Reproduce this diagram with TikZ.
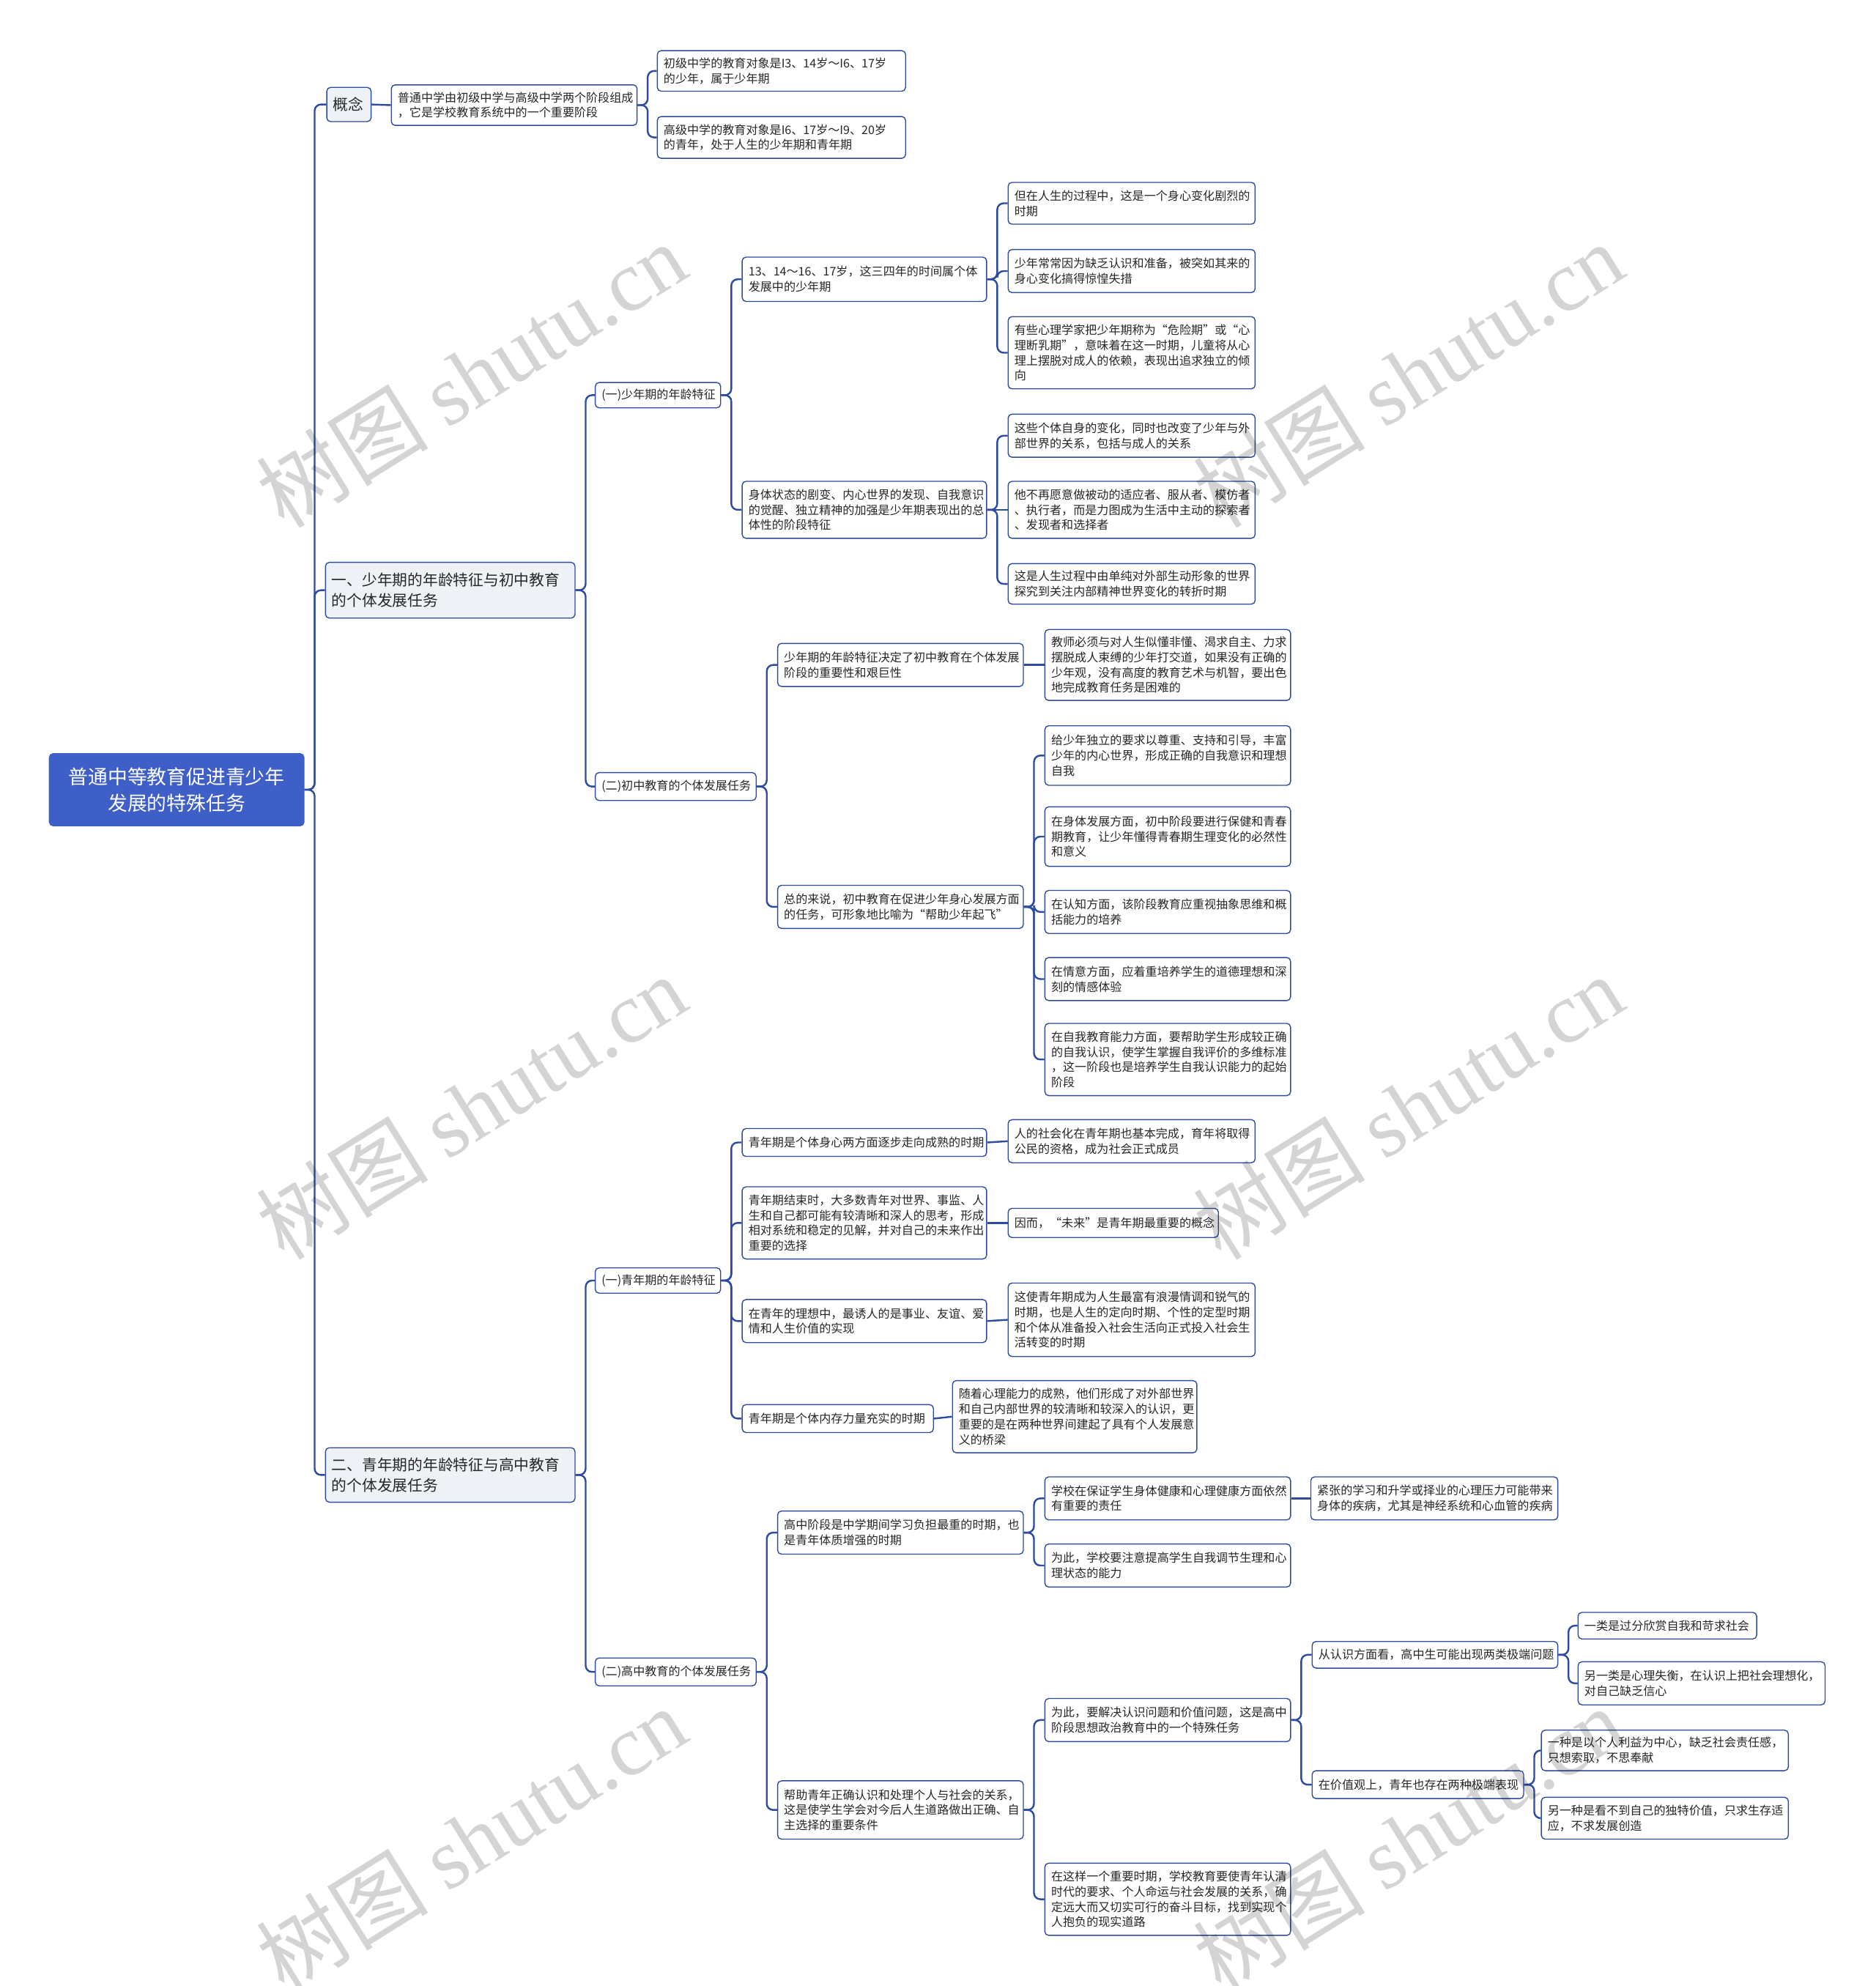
\documentclass[tikz,border=0pt]{standalone}
\usepackage{fontspec}
\setmainfont{Noto Sans CJK SC}
\newfontfamily\wmserif{Liberation Serif}
\newfontfamily\wmcjk{Noto Sans CJK SC}
\definecolor{lineblue}{HTML}{2E4C9E}
\definecolor{rootblue}{HTML}{3F5FC8}
\definecolor{lvfill}{HTML}{EEF1F6}
\tikzset{
 box/.style={draw=lineblue, line width=0.8pt, rounded corners=3pt, fill=white, inner xsep=5pt, inner ysep=0pt, align=left, font=\fontsize{9.3}{12}\selectfont, text=black!85},
 lvone/.style={fill=lvfill, font=\fontsize{12}{16}\selectfont},
 rootbox/.style={fill=rootblue, draw=rootblue, text=white, align=center, font=\fontsize{15.5}{21}\selectfont},
 conn/.style={draw=lineblue, line width=1.4pt, rounded corners=5pt},
 wmark/.style={rotate=32, text=black, opacity=0.17, font=\fontsize{68}{76}\selectfont},
}
\newcommand\bx[7][]{%
 \pgfmathsetmacro\tw{#5-10}%
 \node[box,#1,minimum width=#5pt,minimum height=#6pt,text width=\tw pt] (#2) at ({#3+#5/2},{#4+#6/2}) {#7};}
\newcommand\cb[2]{\draw[conn] (#1.east) -- ++(8,0) |- (#2.west);}
\newcommand\cs[2]{\draw[conn] (#1.east) -- (#2.west);}
\begin{document}
\begin{tikzpicture}[x=1pt,y=-1pt]
\useasboundingbox[fill=white] (0,0) rectangle (1481,1568);
% root and level 1
\bx[rootbox]{root}{39}{595}{201}{57}{普通中等教育促进青少年\\发展的特殊任务}
\bx[lvone]{gn}{258}{69}{35}{27}{概念}
\bx[lvone]{L1}{257}{444}{197}{44}{一、少年期的年龄特征与初中教育\\的个体发展任务}
\bx[lvone]{L2}{257}{1143}{197}{43}{二、青年期的年龄特征与高中教育\\的个体发展任务}
% concept
\bx{c1}{309}{67}{194}{32}{普通中学由初级中学与高级中学两个阶段组成\\，它是学校教育系统中的一个重要阶段}
\bx{c1a}{519}{40}{196}{32}{初级中学的教育对象是I3、14岁～I6、17岁\\的少年，属于少年期}
\bx{c1b}{519}{92}{196}{33}{高级中学的教育对象是I6、17岁～I9、20岁\\的青年，处于人生的少年期和青年期}
% branch 1
\bx{A1}{470}{302}{99}{20}{(一)少年期的年龄特征}
\bx{A2}{470}{610}{127}{22}{(二)初中教育的个体发展任务}
\bx{A1a}{586}{203}{193}{35}{13、14～16、17岁，这三四年的时间属个体\\发展中的少年期}
\bx{A1b}{586}{380}{193}{45}{身体状态的剧变、内心世界的发现、自我意识\\的觉醒、独立精神的加强是少年期表现出的总\\体性的阶段特征}
\bx{A1a1}{796}{144}{195}{33}{但在人生的过程中，这是一个身心变化剧烈的\\时期}
\bx{A1a2}{796}{197}{195}{34}{少年常常因为缺乏认识和准备，被突如其来的\\身心变化搞得惊惶失措}
\bx{A1a3}{796}{250}{195}{57}{有些心理学家把少年期称为“危险期”或“心\\理断乳期”，意味着在这一时期，儿童将从心\\理上摆脱对成人的依赖，表现出追求独立的倾\\向}
\bx{A1b1}{796}{327}{195}{34}{这些个体自身的变化，同时也改变了少年与外\\部世界的关系，包括与成人的关系}
\bx{A1b2}{796}{380}{195}{45}{他不再愿意做被动的适应者、服从者、模仿者\\、执行者，而是力图成为生活中主动的探索者\\、发现者和选择者}
\bx{A1b3}{796}{445}{195}{32}{这是人生过程中由单纯对外部生动形象的世界\\探究到关注内部精神世界变化的转折时期}
\bx{A2a}{614}{508}{194}{34}{少年期的年龄特征决定了初中教育在个体发展\\阶段的重要性和艰巨性}
\bx{A2b}{614}{699}{194}{34}{总的来说，初中教育在促进少年身心发展方面\\的任务，可形象地比喻为“帮助少年起飞”}
\bx{A2a1}{825}{497}{194}{56}{教师必须与对人生似懂非懂、渴求自主、力求\\摆脱成人束缚的少年打交道，如果没有正确的\\少年观，没有高度的教育艺术与机智，要出色\\地完成教育任务是困难的}
\bx{A2b1}{825}{573}{194}{47}{给少年独立的要求以尊重、支持和引导，丰富\\少年的内心世界，形成正确的自我意识和理想\\自我}
\bx{A2b2}{825}{637}{194}{47}{在身体发展方面，初中阶段要进行保健和青春\\期教育，让少年懂得青春期生理变化的必然性\\和意义}
\bx{A2b3}{825}{703}{194}{34}{在认知方面，该阶段教育应重视抽象思维和概\\括能力的培养}
\bx{A2b4}{825}{756}{194}{34}{在情意方面，应着重培养学生的道德理想和深\\刻的情感体验}
\bx{A2b5}{825}{808}{194}{57}{在自我教育能力方面，要帮助学生形成较正确\\的自我认识，使学生掌握自我评价的多维标准\\，这一阶段也是培养学生自我认识能力的起始\\阶段}
% branch 2
\bx{B1}{470}{1001}{99}{20}{(一)青年期的年龄特征}
\bx{B2}{470}{1309}{127}{22}{(二)高中教育的个体发展任务}
\bx{B1a}{586}{891}{193}{22}{青年期是个体身心两方面逐步走向成熟的时期}
\bx{B1b}{586}{937}{193}{57}{青年期结束时，大多数青年对世界、事监、人\\生和自己都可能有较清晰和深人的思考，形成\\相对系统和稳定的见解，并对自己的未来作出\\重要的选择}
\bx{B1c}{586}{1026}{193}{34}{在青年的理想中，最诱人的是事业、友谊、爱\\情和人生价值的实现}
\bx{B1d}{586}{1109}{151}{22}{青年期是个体内存力量充实的时期}
\bx{B1a1}{796}{884}{195}{34}{人的社会化在青年期也基本完成，育年将取得\\公民的资格，成为社会正式成员}
\bx{B1b1}{796}{954}{166}{23}{因而，“未来”是青年期最重要的概念}
\bx{B1c1}{796}{1013}{195}{58}{这使青年期成为人生最富有浪漫情调和锐气的\\时期，也是人生的定向时期、个性的定型时期\\和个体从准备投入社会生活向正式投入社会生\\活转变的时期}
\bx{B1d1}{752}{1090}{193}{57}{随着心理能力的成熟，他们形成了对外部世界\\和自己内部世界的较清晰和较深入的认识，更\\重要的是在两种世界间建起了具有个人发展意\\义的桥梁}
\bx{B2a}{614}{1193}{194}{34}{高中阶段是中学期间学习负担最重的时期，也\\是青年体质增强的时期}
\bx{B2b}{614}{1406}{194}{46}{帮助青年正确认识和处理个人与社会的关系，\\这是使学生学会对今后人生道路做出正确、自\\主选择的重要条件}
\bx{B2a1}{825}{1166}{194}{34}{学校在保证学生身体健康和心理健康方面依然\\有重要的责任}
\bx{B2a2}{825}{1219}{194}{34}{为此，学校要注意提高学生自我调节生理和心\\理状态的能力}
\bx{B2a1a}{1035}{1166}{195}{34}{紧张的学习和升学或择业的心理压力可能带来\\身体的疾病，尤其是神经系统和心血管的疾病}
\bx{B2b1}{825}{1341}{194}{34}{为此，要解决认识问题和价值问题，这是高中\\阶段思想政治教育中的一个特殊任务}
\bx{B2b2}{825}{1471}{194}{57}{在这样一个重要时期，学校教育要使青年认清\\时代的要求、个人命运与社会发展的关系，确\\定远大而又切实可行的奋斗目标，找到实现个\\人抱负的现实道路}
\bx{B2b1a}{1036}{1296}{194}{21}{从认识方面看，高中生可能出现两类极端问题}
\bx{B2b1b}{1036}{1398}{167}{22}{在价值观上，青年也存在两种极端表现}
\bx{B2b1a1}{1246}{1273}{141}{21}{一类是过分欣赏自我和苛求社会}
\bx{B2b1a2}{1246}{1312}{195}{34}{另一类是心理失衡，在认识上把社会理想化，\\对自己缺乏信心}
\bx{B2b1b1}{1217}{1366}{195}{32}{一种是以个人利益为中心，缺乏社会责任感，\\只想索取，不思奉献}
\bx{B2b1b2}{1217}{1419}{195}{33}{另一种是看不到自己的独特价值，只求生存适\\应，不求发展创造}
% connectors
\cb{root}{gn}\cb{root}{L1}\cb{root}{L2}
\cs{gn}{c1}
\cb{c1}{c1a}\cb{c1}{c1b}
\cb{L1}{A1}\cb{L1}{A2}
\cb{A1}{A1a}\cb{A1}{A1b}
\cb{A1a}{A1a1}\cb{A1a}{A1a2}\cb{A1a}{A1a3}
\cb{A1b}{A1b1}\cs{A1b}{A1b2}\cb{A1b}{A1b3}
\cb{A2}{A2a}\cb{A2}{A2b}
\cs{A2a}{A2a1}
\cb{A2b}{A2b1}\cb{A2b}{A2b2}\cb{A2b}{A2b3}\cb{A2b}{A2b4}\cb{A2b}{A2b5}
\cb{L2}{B1}\cb{L2}{B2}
\cb{B1}{B1a}\cb{B1}{B1b}\cb{B1}{B1c}\cb{B1}{B1d}
\cs{B1a}{B1a1}\cs{B1b}{B1b1}\cs{B1c}{B1c1}\cs{B1d}{B1d1}
\cb{B2}{B2a}\cb{B2}{B2b}
\cb{B2a}{B2a1}\cb{B2a}{B2a2}
\cs{B2a1}{B2a1a}
\cb{B2b}{B2b1}\cb{B2b}{B2b2}
\cb{B2b1}{B2b1a}\cb{B2b1}{B2b1b}
\cb{B2b1a}{B2b1a1}\cb{B2b1a}{B2b1a2}
\cb{B2b1b}{B2b1b1}\cb{B2b1b}{B2b1b2}
% watermarks
\foreach \wx/\wy [count=\i] in {372/296,1112/296,372/874,1112/874,372/1452,1112/1452}
  \node[wmark] (wm\i) at (\wx,\wy) {\wmcjk 树图 \wmserif shutu.cn};
\end{tikzpicture}
\end{document}
